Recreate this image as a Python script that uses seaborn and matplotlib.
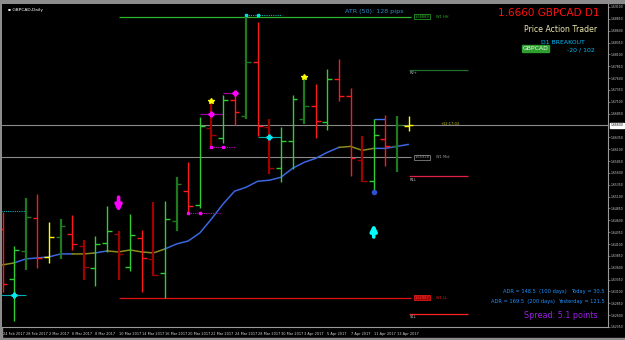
"""GBPCAD daily price action chart (MT4 style)."""

import matplotlib.pyplot as plt
from matplotlib.patches import Rectangle
import seaborn as sns

# ---- values ----
dates = ['24 Feb', '27 Feb', '28 Feb', '1 Mar', '2 Mar', '3 Mar', '6 Mar', '7 Mar',
         '8 Mar', '9 Mar', '10 Mar', '13 Mar', '14 Mar', '15 Mar', '16 Mar', '17 Mar',
         '20 Mar', '21 Mar', '22 Mar', '23 Mar', '24 Mar', '27 Mar', '28 Mar', '29 Mar',
         '30 Mar', '31 Mar', '3 Apr', '4 Apr', '5 Apr', '6 Apr', '7 Apr', '10 Apr',
         '11 Apr', '12 Apr', '13 Apr', '14 Apr']
opens = [1.64416, 1.63366, 1.63954, 1.64647, 1.63828, 1.64248, 1.64311, 1.64059,
         1.63597, 1.64122, 1.64311, 1.63618, 1.64227, 1.63786, 1.63492, 1.64584,
         1.65214, 1.64920, 1.66537, 1.66327, 1.67146, 1.66810, 1.67944, 1.66558,
         1.65697, 1.66264, 1.66747, 1.67020, 1.66663, 1.67587, 1.67230, 1.65865,
         1.65424, 1.66306, 1.66159, 1.66579]
highs = [1.64773, 1.64059, 1.65067, 1.65151, 1.64563, 1.64626, 1.64710, 1.64185,
         1.64269, 1.64899, 1.64374, 1.64731, 1.64395, 1.64983, 1.65004, 1.65508,
         1.65823, 1.66789, 1.67104, 1.67251, 1.67314, 1.68889, 1.68784, 1.66747,
         1.66558, 1.67251, 1.67629, 1.67482, 1.67797, 1.68007, 1.67398, 1.66369,
         1.66747, 1.66831, 1.66810, 1.66810]
lows = [1.63093, 1.62484, 1.63555, 1.63597, 1.63702, 1.63786, 1.63975, 1.63345,
        1.63219, 1.63933, 1.63345, 1.63534, 1.63093, 1.63429, 1.62967, 1.64374,
        1.64773, 1.64857, 1.66138, 1.66222, 1.66600, 1.66747, 1.66369, 1.65571,
        1.65403, 1.65676, 1.66621, 1.66327, 1.66495, 1.67125, 1.65529, 1.65403,
        1.65193, 1.65739, 1.65613, 1.66474]
closes = [1.63261, 1.63975, 1.64668, 1.63807, 1.64248, 1.64479, 1.64101, 1.63618,
          1.64101, 1.64374, 1.63891, 1.64290, 1.63807, 1.63450, 1.64626, 1.65361,
          1.64899, 1.66579, 1.66390, 1.67146, 1.66894, 1.67944, 1.66579, 1.65697,
          1.66264, 1.67167, 1.67020, 1.66705, 1.67587, 1.67230, 1.65907, 1.65424,
          1.66390, 1.66159, 1.66600, 1.66600]
bar_types = ['dn', 'up', 'up2', 'dn', 'pin', 'up2', 'dn', 'dn2', 'up', 'up', 'dn2', 'up',
             'dn', 'dn2', 'up', 'up2', 'dn', 'up', 'dn2', 'up', 'dn', 'up2', 'dn', 'dn2',
             'up', 'up', 'up2', 'dn', 'up', 'dn', 'dn', 'dn2', 'up', 'dn', 'up2', 'pin']
ma_values = [1.63660, 1.63702, 1.63786, 1.63807, 1.63828, 1.63891, 1.63891, 1.63891,
             1.63912, 1.63954, 1.63933, 1.63975, 1.63933, 1.63912, 1.63996, 1.64101,
             1.64164, 1.64332, 1.64626, 1.64941, 1.65214, 1.65298, 1.65424, 1.65445,
             1.65508, 1.65697, 1.65823, 1.65907, 1.66033, 1.66138, 1.66159, 1.66075,
             1.66117, 1.66117, 1.66159, 1.66201]
# trend state of the MA between bar i and bar i+1
ma_trend = ['flat', 'up', 'up', 'up', 'up', 'up', 'flat', 'flat', 'up', 'flat', 'flat',
            'flat', 'flat', 'flat', 'up', 'up', 'up', 'up', 'up', 'up', 'up', 'up', 'up',
            'up', 'up', 'up', 'up', 'up', 'up', 'flat', 'flat', 'flat', 'up', 'up', 'up']

current_price = 1.66600
week_high = 1.68889
week_mid = 1.65928
week_low = 1.62967
day_r2 = 1.67776
day_r1 = 1.65529
day_s1 = 1.62631

# 1.66600 sits under the current price tag
price_ticks = [1.69100, 1.68850, 1.68600, 1.68350, 1.68100, 1.67850, 1.67600, 1.67350,
               1.67100, 1.66850, 1.66350, 1.66100, 1.65850, 1.65600, 1.65350,
               1.65100, 1.64850, 1.64600, 1.64350, 1.64100, 1.63850, 1.63600, 1.63350,
               1.63100, 1.62850, 1.62600, 1.62350]
tick_dates = ['24 Feb 2017', '28 Feb 2017', '2 Mar 2017', '6 Mar 2017', '8 Mar 2017',
              '10 Mar 2017', '14 Mar 2017', '16 Mar 2017', '20 Mar 2017', '22 Mar 2017',
              '24 Mar 2017', '28 Mar 2017', '30 Mar 2017', '3 Apr 2017', '5 Apr 2017',
              '7 Apr 2017', '11 Apr 2017', '13 Apr 2017']

stars = [(18, 1.67125), (26, 1.67629)]
magenta_crosses = [(18, 1.66852), (20, 1.67293)]
cyan_crosses = [(1, 1.63030), (23, 1.66348)]
sell_arrow = (10, 1.65088, 1.64773)
buy_arrow = (32, 1.64248, 1.64521)

bar_palette = {'up': '#32cd32', 'up2': '#1f7a1f', 'dn': '#ff1a1a',
               'dn2': '#a00000', 'pin': '#ffff00'}
ma_palette = {'up': '#3a66e0', 'flat': '#8c8c1e'}

W, H = 625, 340


def fx(px):
    return px / W


def fy(py):
    return 1 - py / H


sns.set_theme(style='dark', rc={'axes.facecolor': 'black', 'figure.facecolor': 'black'})
plt.rcParams['font.family'] = ['DejaVu Sans']

fig = plt.figure(figsize=(6.25, 3.4), dpi=100, facecolor='black')
ax = fig.add_axes([fx(2), fy(327), fx(608) - fx(2), fy(4) - fy(327)])
ax.set_facecolor('black')

idx = list(range(len(dates)))

# horizontal levels
ax.axhline(current_price, color='#8a8a8a', lw=0.8, zorder=1)
ax.hlines(week_mid, -1, 35.2, color='#8a8a8a', lw=0.8, zorder=1)
ax.hlines(week_high, 10, 35.2, color='#2db52d', lw=0.9, zorder=1)
ax.hlines(week_low, 10, 35.2, color='#e01010', lw=0.9, zorder=1)
ax.hlines(day_r2, 35, 40.1, color='#1e6e2e', lw=0.9, zorder=1)
ax.hlines(day_r1, 35, 40.1, color='#e0204a', lw=0.9, zorder=1)
ax.hlines(day_s1, 35, 40.1, color='#ff2020', lw=0.9, zorder=1)

# moving average, coloured by trend
start = 0
for i in range(1, len(ma_trend) + 1):
    if i == len(ma_trend) or ma_trend[i] != ma_trend[start]:
        sns.lineplot(x=idx[start:i + 1], y=ma_values[start:i + 1],
                     color=ma_palette[ma_trend[start]], lw=1.1, ax=ax, zorder=2)
        start = i

# OHLC bars
for i in idx:
    c = bar_palette[bar_types[i]]
    w = 1.6 if bar_types[i] in ('up2', 'dn2') else 1.0
    ax.vlines(i, lows[i], highs[i], color=c, lw=w, zorder=3)
    ax.hlines(opens[i], i - 0.42, i, color=c, lw=1.0, zorder=3)
    ax.hlines(closes[i], i, i + 0.42, color=c, lw=1.0, zorder=3)

# pattern markers
ax.hlines(1.66852, 17, 19, color='#a000a0', lw=0.9, zorder=2)
ax.hlines(1.67293, 19, 20.3, color='#a000a0', lw=0.9, zorder=2)
ax.hlines(1.66138, 18, 20, color='#c000c0', lw=0.8, ls=(0, (1, 1)), zorder=2)
ax.plot([18, 19], [1.66138, 1.66138], 's', color='#ff00ff', ms=2, zorder=4)
ax.hlines(1.64752, 16, 18.8, color='#c000c0', lw=0.8, ls=(0, (1, 1)), zorder=2)
ax.plot([16, 17], [1.64752, 1.64752], 's', color='#ff00ff', ms=2, zorder=4)
ax.hlines(1.64794, -0.1, 2, color='#00b0b0', lw=0.8, ls=(0, (1, 1)), zorder=2)
ax.hlines(1.63030, -0.1, 2, color='#00b0b0', lw=0.8, zorder=2)
ax.hlines(1.66348, 22, 24, color='#00b0b0', lw=0.8, zorder=2)
ax.hlines(1.68931, 21, 24, color='#00b0b0', lw=0.8, ls=(0, (1, 1)), zorder=2)
ax.plot([21, 22], [1.68931, 1.68931], 's', color='#00e0e0', ms=1.8, zorder=4)
ax.hlines(1.66747, 32, 33, color='#4070ff', lw=1.0, zorder=2)
ax.plot(32, 1.65193, 'o', color='#3050d0', ms=3, zorder=4)
for x, y in stars:
    ax.plot(x, y, '*', color='#ffff00', ms=4, zorder=5)
for x, y in magenta_crosses:
    ax.plot(x, y, 'P', color='#ff00ff', ms=3.5, zorder=5)
for x, y in cyan_crosses:
    ax.plot(x, y, 'P', color='#00e5ee', ms=3.5, zorder=5)
for (x, y0, y1), c in [(sell_arrow, '#ff00ff'), (buy_arrow, '#00ffff')]:
    ax.annotate('', xy=(x, y1), xytext=(x, y0),
                arrowprops=dict(arrowstyle='-|>', color=c, lw=2.6, mutation_scale=9,
                                shrinkA=0, shrinkB=0))

# level labels
lab = dict(fontsize=2.6, va='center', ha='left')
ax.text(35.5, week_high, '1.68889', color='#2db52d', bbox=dict(boxstyle='square,pad=0.15',
        fc='black', ec='#2db52d', lw=0.5), **lab)
ax.text(37.4, week_high, 'W1 HH', color='#2db52d', **lab)
ax.text(35.5, week_mid, '1.65928', color='#9a9a9a', bbox=dict(boxstyle='square,pad=0.15',
        fc='black', ec='#9a9a9a', lw=0.5), **lab)
ax.text(37.4, week_mid, 'W1 Mid', color='#9a9a9a', **lab)
ax.text(35.5, week_low, '1.62967', color='#ff4040', bbox=dict(boxstyle='square,pad=0.15',
        fc='#a00000', ec='#ff2020', lw=0.5), **lab)
ax.text(37.4, week_low, 'W1 LL', color='#e02020', **lab)
ax.text(35.1, day_r2 - 0.0007, 'R2+', color='#c0c0c0', **lab)
ax.text(35.1, day_r1 - 0.0007, 'R1L', color='#c0c0c0', **lab)
ax.text(35.1, day_s1 - 0.0007, 'S1L', color='#c0c0c0', **lab)
ax.text(37.8, current_price + 0.0004, '+12:17:03', color='#c8c800', **lab)

ax.set_xlim(-0.05, 52.2)
ax.set_ylim(1.62379, 1.69162)
ax.yaxis.tick_right()
ax.set_yticks(price_ticks)
ax.set_yticklabels([f'{p:.5f}' for p in price_ticks])
ax.set_xticks(idx[::2][:len(tick_dates)])
ax.set_xticklabels(tick_dates, ha='left')
ax.tick_params(axis='both', colors='#9a9a9a', labelcolor='#d0d0d0', labelsize=2.5,
               length=2, width=0.5, pad=1, direction='out')
ax.tick_params(axis='y', labelsize=2.2, length=1.5, pad=0.6)
ax.tick_params(axis='x', pad=1.5)
ax.grid(False)
for side in ['left', 'top']:
    ax.spines[side].set_visible(False)
for side in ['right', 'bottom']:
    ax.spines[side].set_color('#9a9a9a')
    ax.spines[side].set_linewidth(0.8)
ax.set_xlabel('')
ax.set_ylabel('')

# current price tag on the price scale
ax.text(1.004, current_price, '1.66600', transform=ax.get_yaxis_transform(),
        fontsize=2.2, color='black', va='center', ha='left', zorder=10,
        bbox=dict(boxstyle='square,pad=0.25', fc='white', ec='white'))

# window frame
frame = dict(transform=fig.transFigure, color='#8c8c8c', zorder=-1)
fig.patches.append(Rectangle((0, fy(3)), 1, 3 / H, **frame))
fig.patches.append(Rectangle((0, 0), fx(2), 1, **frame))
fig.patches.append(Rectangle((0, 0), 1, 2 / H, **frame))

# info texts
fig.text(fx(8), fy(10), '\u25aa GBPCAD,Daily', fontsize=3.2, color='white', va='center')
fig.text(fx(404), fy(11), 'ATR (50): 128 pips', fontsize=4.6, color='#2f8fc8',
         ha='right', va='center')
fig.text(fx(600), fy(13), '1.6660 GBPCAD D1', fontsize=7.5, color='#ff1010',
         ha='right', va='center')
fig.text(fx(597), fy(29), 'Price Action Trader', fontsize=5.6, color='#eee8aa',
         ha='right', va='center')
fig.text(fx(585), fy(42), 'D1 BREAKOUT', fontsize=4.4, color='#00bfff',
         ha='right', va='center')
fig.text(fx(523), fy(48.5), 'GBPCAD', fontsize=4.4, color='#e8ffe8', ha='left', va='center',
         bbox=dict(boxstyle='square,pad=0.1', fc='#2e9e2e', ec='#2e9e2e'))
fig.text(fx(595), fy(49.5), '-20 / 102', fontsize=4.4, color='#00bfff',
         ha='right', va='center')
fig.text(fx(567), fy(292), 'ADR = 148.5  (100 days)', fontsize=3.7, color='#1e90ff',
         ha='right', va='center')
fig.text(fx(605), fy(292), 'Today = 30.5', fontsize=3.7, color='#1e90ff',
         ha='right', va='center')
fig.text(fx(555), fy(302), 'ADR = 169.5  (200 days)', fontsize=3.7, color='#1e90ff',
         ha='right', va='center')
fig.text(fx(605), fy(302), 'Yesterday = 121.5', fontsize=3.7, color='#1e90ff',
         ha='right', va='center')
fig.text(fx(597), fy(315), 'Spread: 5.1 points', fontsize=5.8, color='#9a1ee6',
         ha='right', va='center')

fig.savefig('out.png', dpi=100, facecolor='black')
